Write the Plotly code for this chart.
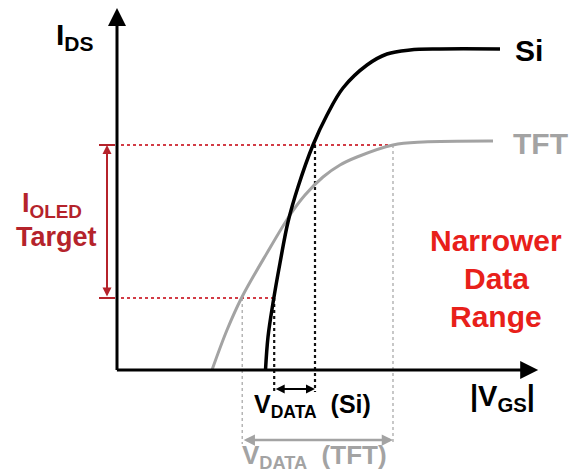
import plotly.graph_objects as go

# ---- data (schematic units: |VGS| on x, IDS on y) ----
si_vgs = [3.7125, 3.775, 3.90, 4.075, 4.275, 4.525, 4.90, 5.25, 5.65, 6.25, 6.75, 7.325, 8.075, 9.575]
si_ids = [0.000, 0.825, 1.675, 2.675, 3.700, 4.575, 5.625, 6.375, 7.050, 7.625, 7.900, 8.000, 8.025, 8.025]
tft_vgs = [2.375, 2.75, 3.125, 3.75, 4.325, 4.70, 5.15, 5.575, 6.00, 6.90, 7.65, 9.40]
tft_ids = [0.000, 1.000, 1.825, 2.925, 3.875, 4.375, 4.825, 5.125, 5.325, 5.625, 5.700, 5.725]

ioled_low, ioled_high = 1.80, 5.625
si_vdata = [3.93, 4.95]      # Si VGS at low / high target current
tft_vdata = [3.13, 6.90]     # TFT VGS at low / high target current
x_axis_end, y_axis_end = 10.53, 9.05

FONT = "Liberation Sans, Arial, sans-serif"
RED_LINE = "#d23c46"
RED_DARK = "#b5232b"
RED_TXT = "#e8201a"
GRAY = "#a3a3a3"

fig = go.Figure()

def line(xs, ys, color, width, dash="solid"):
    fig.add_trace(go.Scatter(x=xs, y=ys, mode="lines", hoverinfo="skip",
                             line=dict(color=color, width=width, dash=dash)))

# red dotted target lines
line([0.1, tft_vdata[1]], [ioled_high, ioled_high], RED_LINE, 2.2, "dot")
line([0.1, si_vdata[0]], [ioled_low, ioled_low], RED_LINE, 2.2, "dot")
# short solid red bars
line([-0.45, -0.05], [ioled_high, ioled_high], RED_DARK, 2)
line([-0.45, -0.05], [ioled_low, ioled_low], RED_DARK, 2)

# gray dotted verticals (TFT)
line([tft_vdata[0], tft_vdata[0]], [ioled_low, -1.85], GRAY, 1.2, "dot")
line([tft_vdata[1], tft_vdata[1]], [ioled_high, -1.85], GRAY, 1.2, "dot")
# black dotted verticals (Si)
line([si_vdata[0], si_vdata[0]], [ioled_low, -0.55], "#111111", 2.2, "dot")
line([si_vdata[1], si_vdata[1]], [ioled_high, -0.55], "#111111", 2.2, "dot")

# curves
fig.add_trace(go.Scatter(x=tft_vgs, y=tft_ids, mode="lines", hoverinfo="skip",
                         line=dict(color=GRAY, width=3, shape="spline", smoothing=1.0)))
fig.add_trace(go.Scatter(x=si_vgs, y=si_ids, mode="lines", hoverinfo="skip",
                         line=dict(color="#000000", width=3.5, shape="spline", smoothing=1.0)))

def arrow(x, y, ax, ay, color, width, size, both=False):
    fig.add_annotation(x=x, y=y, ax=ax, ay=ay, xref="x", yref="y", axref="x", ayref="y",
                       text="", showarrow=True, arrowhead=2, arrowsize=size,
                       arrowwidth=width, arrowcolor=color,
                       arrowside="end+start" if both else "end",
                       startarrowhead=2, startarrowsize=size, standoff=0, startstandoff=0)

# axes
arrow(0, y_axis_end, 0, -0.04, "#000000", 3, 1.2)
arrow(x_axis_end, 0, -0.04, 0, "#000000", 3, 1.2)
# range arrows
arrow(-0.25, ioled_high, -0.25, ioled_low, RED_DARK, 2, 0.9, both=True)
arrow(si_vdata[1], -0.475, si_vdata[0], -0.475, "#000000", 2, 0.9, both=True)
arrow(tft_vdata[1], -1.75, tft_vdata[0], -1.75, GRAY, 2.5, 0.9, both=True)

def label(x, y, text, size, color, xanchor="center"):
    fig.add_annotation(x=x, y=y, xref="x", yref="y", text=text, showarrow=False,
                       xanchor=xanchor, yanchor="middle",
                       font=dict(family=FONT, size=size, color=color))

label(-0.52, 8.35, "<b>I<sub>DS</sub></b>", 30, "#000000", xanchor="right")
label(9.9, 8.0, "<b>Si</b>", 30, "#000000", xanchor="left")
label(9.85, 5.675, "<b>TFT</b>", 30, GRAY, xanchor="left")
label(-1.625, 4.12, "<b>I<sub>OLED</sub></b>", 27, RED_DARK)
label(-1.525, 3.33, "<b>Target</b>", 27, RED_DARK)
label(9.475, 3.25, "<b>Narrower</b>", 30, RED_TXT)
label(9.475, 2.3, "<b>Data</b>", 30, RED_TXT)
label(9.475, 1.35, "<b>Range</b>", 30, RED_TXT)
label(9.625, -0.7, "<b>|V<sub>GS</sub>|</b>", 29, "#000000")
label(3.375, -0.9, "<b>V<sub>DATA</sub>  (Si)</b>", 25, "#000000", xanchor="left")
label(3.075, -2.15, "<b>V<sub>DATA</sub>  (TFT)</b>", 26, GRAY, xanchor="left")

fig.update_layout(
    width=579, height=475, margin=dict(l=0, r=0, t=0, b=0),
    paper_bgcolor="white", plot_bgcolor="white", showlegend=False,
    xaxis=dict(range=[-117 / 40, 462 / 40], visible=False, fixedrange=True),
    yaxis=dict(range=[-105 / 40, 370 / 40], visible=False, fixedrange=True),
)

fig.write_html("out.html", config={"displayModeBar": False, "staticPlot": True})
with open("out.html", "r", encoding="utf-8") as f:
    html = f.read()
html = html.replace("<head>", "<head><style>html,body{margin:0;padding:0;overflow:hidden;}</style>", 1)
with open("out.html", "w", encoding="utf-8") as f:
    f.write(html)
